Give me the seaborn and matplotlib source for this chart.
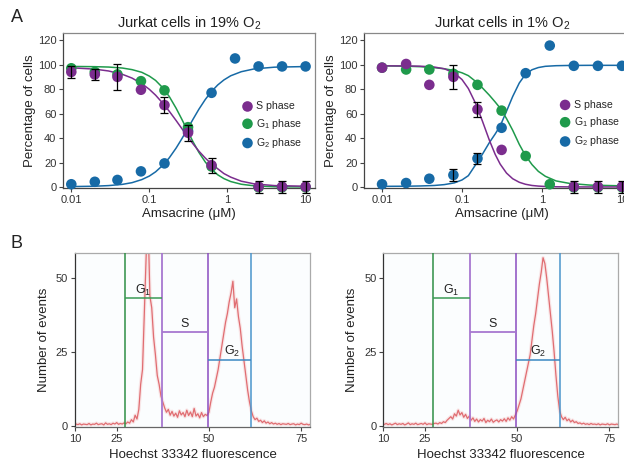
import numpy as np
import pandas as pd
import matplotlib
matplotlib.use('Agg')
import matplotlib.pyplot as plt
import seaborn as sns

nan = np.nan

# ---- Panel A: dose response (% of cells per phase) ----
conc = [0.01, 0.02, 0.039, 0.078, 0.156, 0.3125, 0.625, 1.25, 2.5, 5, 10]

s_19 = [94, 92, 90, 79.5, 67, 44.5, 18, nan, 0.5, 0.5, 0.5]
g1_19 = [97, 94, 92, 86.5, 79, 49, 17, nan, 0, 0, 0]
g2_19 = [2.5, 4.5, 6, 13, 19.5, 46, 77, 105, 98.5, 98.5, 98.5]
s_19_err = [4.7, 4.7, 10.5, nan, 6.5, 6.5, 6, nan, 5, 5, 5]

s_1 = [97.5, 100.5, 83.5, 90, 63.5, 30.5, nan, nan, 0.5, 0.5, 0.5]
g1_1 = [97.5, 96, 96, 92.5, 83.5, 62.5, 25.5, 2.5, 0, 0, 0]
g2_1 = [2.5, 3.5, 7, 10, 23.5, 48.5, 93, 115.5, 99, 99, 99]
s_1_err = [nan, nan, nan, 9.8, 6, nan, nan, nan, 5, 5, 5]
g2_1_err = [nan, nan, nan, 5, 4.8, nan, nan, nan, nan, nan, nan]

# fitted curves
curve_x = [0.01, 0.02, 0.03, 0.045, 0.06, 0.08, 0.1, 0.12, 0.15, 0.18, 0.22, 0.26,
           0.3, 0.36, 0.43, 0.52, 0.62, 0.75, 0.9, 1.1, 1.5, 2.2, 4, 10]
s_19_fit = [97.4, 96.3, 94.8, 92.1, 89.0, 84.5, 79.8, 75.1, 68.2, 61.9, 54.4, 47.9,
            42.4, 35.6, 29.5, 23.8, 19.2, 15.1, 11.2, 8.3, 5.0, 2.8, 1.4, 0.9]
g1_19_fit = [98.5, 98.3, 98.0, 97.2, 95.9, 93.7, 90.6, 87.1, 80.8, 73.9, 64.4, 55.5,
             47.5, 37.4, 28.5, 20.6, 14.9, 10.2, 7.1, 4.7, 2.5, 1.2, 0.5, 0.3]
g2_19_fit = [0.6, 0.9, 1.4, 2.4, 3.8, 6.3, 9.2, 12.6, 18.2, 24.1, 32.0, 39.5,
             46.3, 55.2, 63.6, 71.6, 77.9, 83.4, 87.5, 90.9, 94.2, 96.5, 97.9, 98.4]
s_1_fit = [99.0, 98.9, 98.7, 98.0, 96.6, 93.2, 87.8, 80.5, 67.5, 53.9, 38.3, 26.8,
           18.9, 11.6, 7.0, 4.1, 2.5, 1.5, 1.0, 0.7, 0.45, 0.35, 0.3, 0.3]
g1_1_fit = [99.0, 98.7, 98.3, 97.5, 96.6, 95.2, 93.3, 91.0, 86.0, 81.0, 75.0, 69.5,
            64.5, 56.0, 46.5, 35.0, 26.0, 18.5, 13.0, 9.0, 5.2, 3.2, 1.8, 1.2]
g2_1_fit = [0.8, 0.9, 1.1, 1.5, 2.2, 3.6, 6.0, 9.5, 19.0, 27.0, 36.5, 43.5,
            50.0, 62.0, 74.0, 85.0, 92.0, 95.8, 97.6, 98.6, 99.1, 99.3, 99.4, 99.4]

# ---- Panel B: Hoechst histograms (bins of 0.5 from 14 to 77.5) ----
fluor = np.arange(14, 78, 0.5)
events_19 = [0.5, 0.3, 0.6, 0.2, 0.5, 0.4, 0.3, 0.7, 0.2, 0.5,
             0.4, 0.8, 0.3, 0.5, 0.6, 0.2, 0.9, 0.4, 0.6, 0.3,
             0.8, 0.5, 1.0, 0.4, 0.7, 0.5, 0.9, 0.6, 1.2, 0.8,
             2.0, 1.2, 3.5, 2.2, 5.5, 14, 19, 38, 58, 70,
             44, 40, 30, 24, 17, 14, 10, 8, 6, 4.5,
             5.5, 3.5, 4.8, 3.2, 4.2, 2.8, 5.0, 3.6, 4.4, 3.0,
             5.2, 3.4, 4.6, 3.0, 5.8, 3.2, 4.0, 2.6, 4.4, 3.0,
             3.8, 3.4, 4.5, 8, 11, 13, 16, 19, 23, 27,
             31, 35, 38, 42, 45, 49, 40, 43, 37, 33,
             27, 22, 17, 12, 8, 5, 3, 2, 2.5, 1.4,
             1.8, 1.0, 1.6, 0.8, 1.2, 0.6, 1.0, 0.5, 0.8, 0.4,
             0.7, 0.3, 0.6, 0.5, 0.4, 0.7, 0.3, 0.5, 0.6, 0.2,
             0.5, 0.3, 0.8, 0.4, 0.3, 0.5, 0.2, 0.4]
events_1 = [0.4, 0.7, 0.3, 0.6, 0.2, 0.5, 0.8, 0.3, 0.6, 0.4,
            0.7, 0.2, 0.5, 0.9, 0.3, 0.6, 0.4, 0.8, 0.3, 0.5,
            0.7, 0.4, 0.9, 0.3, 0.6, 0.5, 0.4, 0.7, 0.8, 0.5,
            1.0, 0.7, 1.3, 1.0, 1.8, 2.4, 3.0, 2.2, 4.0, 3.2,
            5.2, 3.6, 4.4, 2.8, 3.8, 2.4, 3.2, 1.8, 2.6, 1.4,
            2.2, 1.2, 2.0, 1.5, 2.4, 1.0, 1.8, 1.3, 2.2, 1.1,
            1.6, 1.9, 1.2, 2.0, 1.5, 2.3, 1.4, 2.6, 1.8, 3.0,
            2.2, 3.6, 5, 7, 9, 12, 15, 18, 21, 24,
            29, 34, 38, 43, 48, 52, 57, 55, 50, 44,
            38, 32, 25, 17, 10, 5, 3.0, 2.0, 2.8, 1.6,
            2.2, 1.2, 1.8, 1.0, 1.3, 0.7, 0.9, 0.5, 0.8, 0.4,
            0.6, 0.3, 0.7, 0.4, 0.5, 0.3, 0.6, 0.2, 0.5, 0.4,
            0.3, 0.6, 0.2, 0.5, 0.4, 0.3, 0.5, 0.2]

# gates: (left, right, height)
gate_g1 = (27.2, 37.3, 43.3)
gate_s = (37.3, 49.8, 31.8)
gate_g2 = (49.8, 61.5, 22.4)

C_S = '#7b2d8e'
C_G1 = '#1f9a4b'
C_G2 = '#176aa6'

sns.set_theme(style='ticks')
plt.rcParams['font.family'] = ['Liberation Sans', 'DejaVu Sans']
plt.rcParams['mathtext.fontset'] = 'custom'
plt.rcParams['mathtext.rm'] = 'Liberation Sans'
plt.rcParams['mathtext.it'] = 'Liberation Sans:italic'
plt.rcParams['mathtext.bf'] = 'Liberation Sans:bold'

fig = plt.figure(figsize=(6.24, 4.63), dpi=100)
W, H = 624, 463


def box(x0, y0, x1, y1):
    return [x0 / W, 1 - y1 / H, (x1 - x0) / W, (y1 - y0) / H]


def style_axes(ax):
    for side in ['left', 'bottom']:
        ax.spines[side].set_color('#444')
        ax.spines[side].set_linewidth(0.9)
    for side in ['top', 'right']:
        ax.spines[side].set_visible(True)
        ax.spines[side].set_color('#888')
        ax.spines[side].set_linewidth(0.9)
    ax.tick_params(direction='out', length=3, width=0.8, color='#444',
                   labelsize=8, labelcolor='#333', pad=2)
    ax.minorticks_off()


def dose_panel(ax, s, g1, g2, s_fit, g1_fit, g2_fit, errs, title, xlim, leg_xy):
    # curves
    sns.lineplot(x=curve_x, y=g2_fit, color=C_G2, lw=1.1, ax=ax, estimator=None, zorder=2)
    sns.lineplot(x=curve_x, y=g1_fit, color=C_G1, lw=1.1, ax=ax, estimator=None, zorder=2)
    sns.lineplot(x=curve_x, y=s_fit, color=C_S, lw=1.1, ax=ax, estimator=None, zorder=2)
    # points (blue below, purple on top)
    sns.scatterplot(x=conc, y=g2, color=C_G2, s=58, edgecolor='none', ax=ax,
                    label='G$_2$ phase', zorder=3, clip_on=False)
    sns.scatterplot(x=conc, y=g1, color=C_G1, s=58, edgecolor='none', ax=ax,
                    label='G$_1$ phase', zorder=3, clip_on=False)
    sns.scatterplot(x=conc, y=s, color=C_S, s=58, edgecolor='none', ax=ax,
                    label='S phase', zorder=3, clip_on=False)
    for vals, err in errs:
        v = np.array(vals, dtype=float)
        e = np.array(err, dtype=float)
        m = ~np.isnan(e) & ~np.isnan(v)
        ax.errorbar(np.array(conc)[m], v[m], yerr=e[m], fmt='none', ecolor='black',
                    elinewidth=0.9, capsize=2.6, capthick=0.9, zorder=4, clip_on=False)
    ax.set_xscale('log')
    ax.set_xlim(*xlim)
    ax.set_ylim(-0.8, 125.5)
    ax.set_yticks([0, 20, 40, 60, 80, 100, 120])
    ax.set_xticks([0.01, 0.1, 1, 10])
    ax.set_xticklabels(['0.01', '0.1', '1', '10'])
    style_axes(ax)
    ax.set_title(title, fontsize=10.5, pad=4, color='#222')
    ax.set_xlabel('Amsacrine (\u03bcM)', fontsize=9.5, labelpad=2, color='#222')
    ax.set_ylabel('Percentage of cells', fontsize=9.5, labelpad=1, color='#222')
    handles, labels = ax.get_legend_handles_labels()
    order = [labels.index('S phase'), labels.index('G$_1$ phase'), labels.index('G$_2$ phase')]
    ax.legend([handles[i] for i in order], [labels[i] for i in order],
              loc='center left', bbox_to_anchor=leg_xy, frameon=False,
              fontsize=7.6, handlelength=0.8, handletextpad=0.45, labelspacing=0.5,
              borderpad=0, borderaxespad=0, markerscale=1.0)


def hist_panel(ax, events, labels_x):
    ax.set_facecolor('#fbfdfe')
    sns.lineplot(x=fluor, y=events, color='#e65a5e', lw=2.6, alpha=0.14, ax=ax,
                 estimator=None, zorder=1)
    sns.lineplot(x=fluor, y=events, color='#d63a40', lw=0.9, alpha=0.7, ax=ax,
                 estimator=None, zorder=2)
    ax.axvline(gate_g1[0], color='#2f8f45', lw=1.1, zorder=3)
    ax.axvline(gate_s[0], color='#a778d0', lw=1.3, zorder=3)
    ax.axvline(gate_s[1], color='#8a4cc0', lw=1.1, zorder=3)
    ax.axvline(gate_g2[1], color='#4a95cc', lw=1.1, zorder=3)
    ax.hlines(gate_g1[2], gate_g1[0], gate_g1[1], color='#3a9a55', lw=1.1, zorder=3)
    ax.hlines(gate_s[2], gate_s[0], gate_s[1], color='#a778d0', lw=1.3, zorder=3)
    ax.hlines(gate_g2[2], gate_g2[0], gate_g2[1], color='#3a88c2', lw=1.1, zorder=3)
    ax.text(labels_x[0], 45.8, 'G$_1$', ha='center', va='center', fontsize=9, color='#222')
    ax.text(labels_x[1], 34.5, 'S', ha='center', va='center', fontsize=9, color='#222')
    ax.text(labels_x[2], 25.1, 'G$_2$', ha='center', va='center', fontsize=9, color='#222')
    ax.set_xlim(13.7, 77.4)
    ax.set_ylim(-0.4, 58.7)
    ax.set_xticks([13.7, 25, 50, 75])
    ax.set_xticklabels(['10', '25', '50', '75'])
    ax.set_yticks([0, 25, 50])
    style_axes(ax)
    ax.spines['left'].set_color('#333')
    ax.spines['bottom'].set_color('#666')
    ax.spines['top'].set_color('#aaa')
    ax.spines['right'].set_color('#aaa')
    ax.set_xlabel('Hoechst 33342 fluorescence', fontsize=9.5, labelpad=4, color='#222')
    ax.set_ylabel('Number of events', fontsize=9.5, labelpad=4, color='#222')


ax1 = fig.add_axes(box(63.3, 33.3, 315, 188.3))
dose_panel(ax1, s_19, g1_19, g2_19, s_19_fit, g1_19_fit, g2_19_fit,
           [(s_19, s_19_err)], 'Jurkat cells in 19% O$_2$', (0.0079, 13.2), (0.715, 0.405))

ax2 = fig.add_axes(box(364.3, 33.3, 640, 188.3))
dose_panel(ax2, s_1, g1_1, g2_1, s_1_fit, g1_1_fit, g2_1_fit,
           [(s_1, s_1_err), (g2_1, g2_1_err)], 'Jurkat cells in 1% O$_2$',
           (0.006, 16.8), (0.713, 0.415))

ax3 = fig.add_axes(box(75, 252.7, 310, 426.7))
hist_panel(ax3, events_19, (32.2, 43.5, 56.2))

ax4 = fig.add_axes(box(383.3, 252.7, 618.3, 426.7))
hist_panel(ax4, events_1, (32.0, 43.2, 55.7))

fig.text(17 / W, 1 - 18 / H, 'A', ha='center', va='center', fontsize=13, color='#222')
fig.text(17 / W, 1 - 243 / H, 'B', ha='center', va='center', fontsize=13, color='#222')

fig.savefig('out.png', dpi=100)
